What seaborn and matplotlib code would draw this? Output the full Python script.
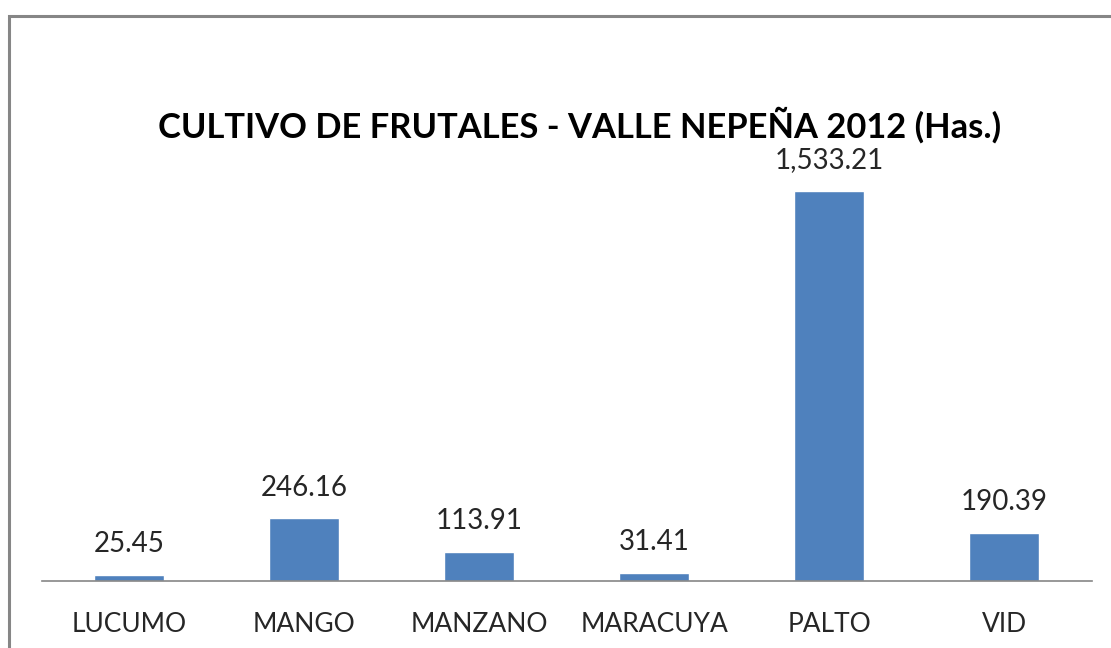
import matplotlib
matplotlib.use('Agg')
import matplotlib.pyplot as plt
import seaborn as sns
import pandas as pd
from matplotlib.patches import Rectangle

cultivos = ['LUCUMO', 'MANGO', 'MANZANO', 'MARACUYA', 'PALTO', 'VID']
hectareas = [25.45, 246.16, 113.91, 31.41, 1533.21, 190.39]
titulo = 'CULTIVO DE FRUTALES - VALLE NEPEÑA 2012 (Has.)'

sns.set_style('white')
plt.rcParams['font.family'] = ['Lato', 'DejaVu Sans']

df = pd.DataFrame({'cultivo': cultivos, 'has': hectareas})

fig = plt.figure(figsize=(11.11, 6.48), dpi=100)
ax = fig.add_axes([0.0378, 0.1034, 0.945, 0.6674])
sns.barplot(data=df, x='cultivo', y='has', color='#4F81BD', saturation=1,
            width=0.4, ax=ax)
ax.set_xlim(-0.5, len(cultivos) - 0.5)
ax.set_ylim(0, 1700)
for i, v in enumerate(hectareas):
    ax.annotate(f'{v:,.2f}', (i, v), xytext=(0, 22), textcoords='offset points',
                ha='center', va='center', fontsize=20, color='#262626')

ax.set_xlabel('')
ax.set_ylabel('')
ax.set_yticks([])
ax.tick_params(axis='x', length=0, labelsize=19, labelcolor='#262626', pad=22)
for s in ['top', 'right', 'left']:
    ax.spines[s].set_visible(False)
ax.spines['bottom'].set_color('#868686')
ax.spines['bottom'].set_linewidth(1.2)

fig.text(0.522, 0.807, titulo, ha='center', va='center', fontsize=24.8,
         fontweight='bold', color='black')

border = Rectangle((0.0081, -0.1), 1.1, 1.0753, transform=fig.transFigure,
                   fill=False, edgecolor='#868686', linewidth=2.2)
fig.patches.append(border)

fig.savefig('out.png', dpi=100)
